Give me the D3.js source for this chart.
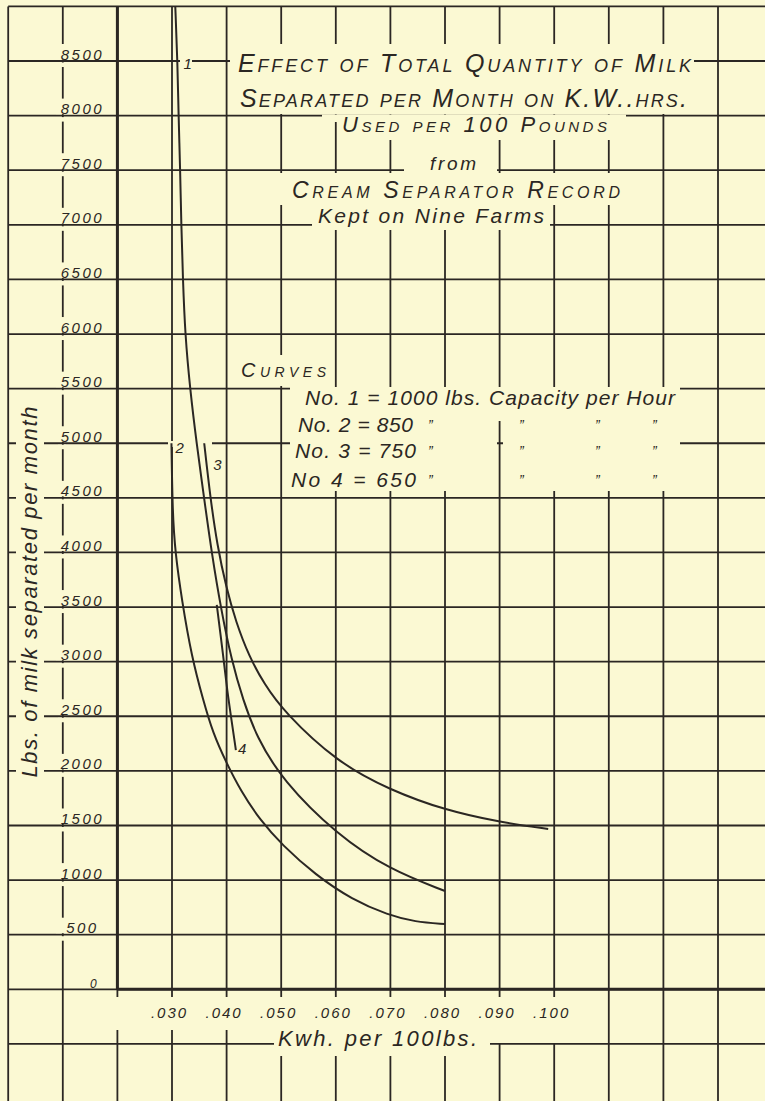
<!DOCTYPE html>
<html>
<head>
<meta charset="utf-8">
<script src="https://cdn.jsdelivr.net/npm/d3@7"></script>
<style>
    body { margin: 0; background: #fbf9d3; }
    svg text { font-family: "Liberation Sans", "DejaVu Sans", sans-serif; font-style: italic; fill: #2b2723; }
</style>
</head>
<body>
<div id="chart"></div>
<script>
// readings: [kwh per 100 lbs, lbs of milk separated per month]
var curve1 = [[0.0306, 9000], [0.0310, 8500], [0.0312, 8000], [0.0315, 7500], [0.0317, 7000], [0.0320, 6500],
    [0.0324, 6000], [0.0333, 5500], [0.0345, 5000], [0.0359, 4490], [0.0373, 3985], [0.0390, 3475],
    [0.0409, 3015], [0.0430, 2650], [0.0455, 2310], [0.0502, 1915], [0.0602, 1415], [0.0699, 1095],
    [0.0800, 900]];
var curve2 = [[0.0299, 5000], [0.0301, 4360], [0.0306, 3995], [0.0318, 3565], [0.0336, 3045], [0.0357, 2650],
    [0.0375, 2345], [0.0400, 2070], [0.0425, 1825], [0.0461, 1550], [0.0502, 1320], [0.0562, 1050],
    [0.0630, 820], [0.0696, 680], [0.0745, 617], [0.0800, 598]];
var curve3 = [[0.0359, 5000], [0.0370, 4510], [0.0383, 4060], [0.0399, 3685], [0.0417, 3365], [0.0441, 3050],
    [0.0469, 2795], [0.0505, 2540], [0.0602, 2080], [0.0699, 1825], [0.0800, 1640], [0.0900, 1530],
    [0.0989, 1468]];
var curve4 = [[0.0382, 3520], [0.0389, 3245], [0.0395, 3000], [0.0401, 2740], [0.0409, 2465], [0.0417, 2190]];

var curveNames = ["1", "2", "3", "4"];
var yTicks = [0, 500, 1000, 1500, 2000, 2500, 3000, 3500, 4000, 4500, 5000, 5500, 6000, 6500, 7000, 7500, 8000, 8500];
var xTicks = [0.03, 0.04, 0.05, 0.06, 0.07, 0.08, 0.09, 0.10];

var titleLines = ["Effect of Total Quantity of Milk", "Separated per Month on K.W..hrs.", "Used per 100 Pounds",
    "from", "Cream Separator Record", "Kept on Nine Farms"];
var legendHead = "Curves";
var legendRows = ["No. 1 = 1000 lbs. Capacity per Hour", "No. 2 = 850", "No. 3 = 750", "No 4 = 650"];

var width = 765, height = 1101;
var ink = "#2b2723", paper = "#fbf9d3";

var svg = d3.select("#chart").append("svg")
    .attr("width", width)
    .attr("height", height);

svg.append("rect").attr("width", width).attr("height", height).attr("fill", paper);

var x = d3.scaleLinear().domain([0, 0.13]).range([8.2, 718]);
var y = d3.scaleLinear().domain([0, 8500]).range([989.3, 61]);

var gridX = d3.range(0, 14).map(function (i) { return i / 100; });
var gridY = d3.range(-1, 19).map(function (i) { return i * 500; });

// the squared paper
var grid = svg.append("g").attr("stroke", ink).attr("stroke-width", 1.8);
grid.selectAll(".v").data(gridX).enter().append("line")
    .attr("x1", function (d) { return x(d); }).attr("x2", function (d) { return x(d); })
    .attr("y1", y(9000)).attr("y2", height);
grid.selectAll(".h").data(gridY).enter().append("line")
    .attr("x1", x(0)).attr("x2", width)
    .attr("y1", function (d) { return y(d); }).attr("y2", function (d) { return y(d); });

// heavier axis lines
grid.append("line").attr("stroke-width", 3)
    .attr("x1", x(0.02)).attr("x2", x(0.02)).attr("y1", y(9000)).attr("y2", y(0));
grid.append("line").attr("stroke-width", 3)
    .attr("x1", x(0.02)).attr("x2", width).attr("y1", y(0)).attr("y2", y(0));

// paper showing through where the lettering was put in
function mask(x0, y0, x1, y1) {
    svg.append("rect").attr("x", x0).attr("y", y0)
        .attr("width", x1 - x0).attr("height", y1 - y0).attr("fill", paper);
}
mask(230, 44, 694, 114);
mask(322, 114.5, 626, 122);
mask(340, 122, 626, 140);
mask(404, 140, 497, 177);
mask(277, 173, 625, 205);
mask(312, 205, 550, 230);
mask(237, 355, 330, 386);
mask(290, 387, 680, 421);
mask(290, 421, 497, 491);
mask(503, 421, 680, 491);
mask(180, 53, 192, 70);
mask(168, 441, 212, 447);
mask(16, 400, 44, 785);
mask(110, 997, 580, 1030);
mask(255, 1030, 580, 1043);
mask(274, 1043, 490, 1056);
yTicks.forEach(function (v) {
    if (v === 0) { mask(84, y(0) - 10, 100, y(0) - 1.5); return; }
    mask(56, y(v) - 17, 110, y(v) - 1.5);
    mask(58, y(v) + 1.5, 66, y(v) + 6);
});

// curves
var line = d3.line()
    .x(function (d) { return x(d[0]); })
    .y(function (d) { return y(d[1]); })
    .curve(d3.curveBasis);

var curves = [curve1, curve2, curve3, curve4];
svg.append("g").selectAll("path").data(curves).enter().append("path")
    .attr("fill", "none")
    .attr("stroke", ink)
    .attr("stroke-width", 2)
    .attr("d", line);

// curve numbers
var labelAt = [
    { p: curve1[1], dx: 6, dy: 8 },
    { p: curve2[0], dx: 4, dy: 10 },
    { p: curve3[0], dx: 9, dy: 27 },
    { p: curve4[curve4.length - 1], dx: 2, dy: 4 }
];
svg.append("g").selectAll("text").data(labelAt).enter().append("text")
    .attr("x", function (d) { return x(d.p[0]) + d.dx; })
    .attr("y", function (d) { return y(d.p[1]) + d.dy; })
    .style("font-size", "15px")
    .text(function (d, i) { return curveNames[i]; });

// y axis labels
var yAxis = svg.append("g")
    .attr("transform", "translate(" + x(0.02) + ",0)")
    .call(d3.axisLeft(y).tickValues(yTicks).tickSize(0).tickFormat(d3.format("d")));
yAxis.select(".domain").remove();
yAxis.selectAll("text")
    .attr("x", -35).attr("dy", -2)
    .attr("text-anchor", "middle")
    .attr("fill", ink)
    .style("font-family", null)
    .style("font-size", "15px")
    .style("letter-spacing", "2.5px");
yAxis.selectAll("text").filter(function (d) { return d === 0; })
    .attr("x", -24).style("font-size", "12px").style("letter-spacing", "0px");

// x axis labels
var xAxis = svg.append("g")
    .attr("transform", "translate(0," + y(0) + ")")
    .call(d3.axisBottom(x).tickValues(xTicks).tickSize(0)
        .tickFormat(function (d) { return d3.format(".3f")(d).slice(1); }));
xAxis.select(".domain").remove();
xAxis.selectAll("text")
    .attr("x", -3).attr("y", 29).attr("dy", 0)
    .attr("fill", ink)
    .style("font-size", "15px")
    .style("letter-spacing", "2px");

// axis titles
svg.append("text")
    .attr("transform", "translate(37,592) rotate(-90)")
    .attr("text-anchor", "middle")
    .attr("textLength", 371).attr("lengthAdjust", "spacing")
    .style("font-size", "22px")
    .text("Lbs. of milk separated per month");

svg.append("text")
    .attr("x", 278).attr("y", 1046)
    .attr("textLength", 199).attr("lengthAdjust", "spacing")
    .style("font-size", "22px")
    .text("Kwh. per 100lbs.");

// title block
var titleFmt = [
    { x: 238, y: 72, w: 453, size: 25, caps: true },
    { x: 240, y: 107, w: 447, size: 25, caps: true },
    { x: 342, y: 132, w: 265, size: 22, caps: true },
    { x: 430, y: 170, w: 46, size: 19, caps: false },
    { x: 292, y: 198, w: 328, size: 23, caps: true },
    { x: 318, y: 223, w: 226, size: 21, caps: false }
];
svg.append("g").selectAll("text").data(titleLines).enter().append("text")
    .attr("x", function (d, i) { return titleFmt[i].x; })
    .attr("y", function (d, i) { return titleFmt[i].y; })
    .attr("textLength", function (d, i) { return titleFmt[i].w; })
    .attr("lengthAdjust", "spacing")
    .style("font-size", function (d, i) { return titleFmt[i].size + "px"; })
    .style("font-variant", function (d, i) { return titleFmt[i].caps ? "small-caps" : "normal"; })
    .text(function (d) { return d; });

// legend of the curves
svg.append("text")
    .attr("x", 241).attr("y", 377)
    .attr("textLength", 85).attr("lengthAdjust", "spacing")
    .style("font-size", "20px").style("font-variant", "small-caps")
    .text(legendHead);

var rowFmt = [
    { x: 305, y: 405, w: 370 },
    { x: 298, y: 432, w: 115 },
    { x: 295, y: 458, w: 121 },
    { x: 291, y: 487, w: 125 }
];
var legend = svg.append("g");
legend.selectAll(".row").data(legendRows).enter().append("text")
    .attr("x", function (d, i) { return rowFmt[i].x; })
    .attr("y", function (d, i) { return rowFmt[i].y; })
    .attr("textLength", function (d, i) { return rowFmt[i].w; })
    .attr("lengthAdjust", "spacing")
    .style("font-size", "21px")
    .text(function (d) { return d; });

var dittoCols = [428, 519, 595, 652];
legendRows.slice(1).forEach(function (r, i) {
    dittoCols.forEach(function (cx) {
        legend.append("text")
            .attr("x", cx).attr("y", rowFmt[i + 1].y - 2)
            .style("font-size", "14px")
            .text("\u201D");
    });
});
</script>
</body>
</html>
